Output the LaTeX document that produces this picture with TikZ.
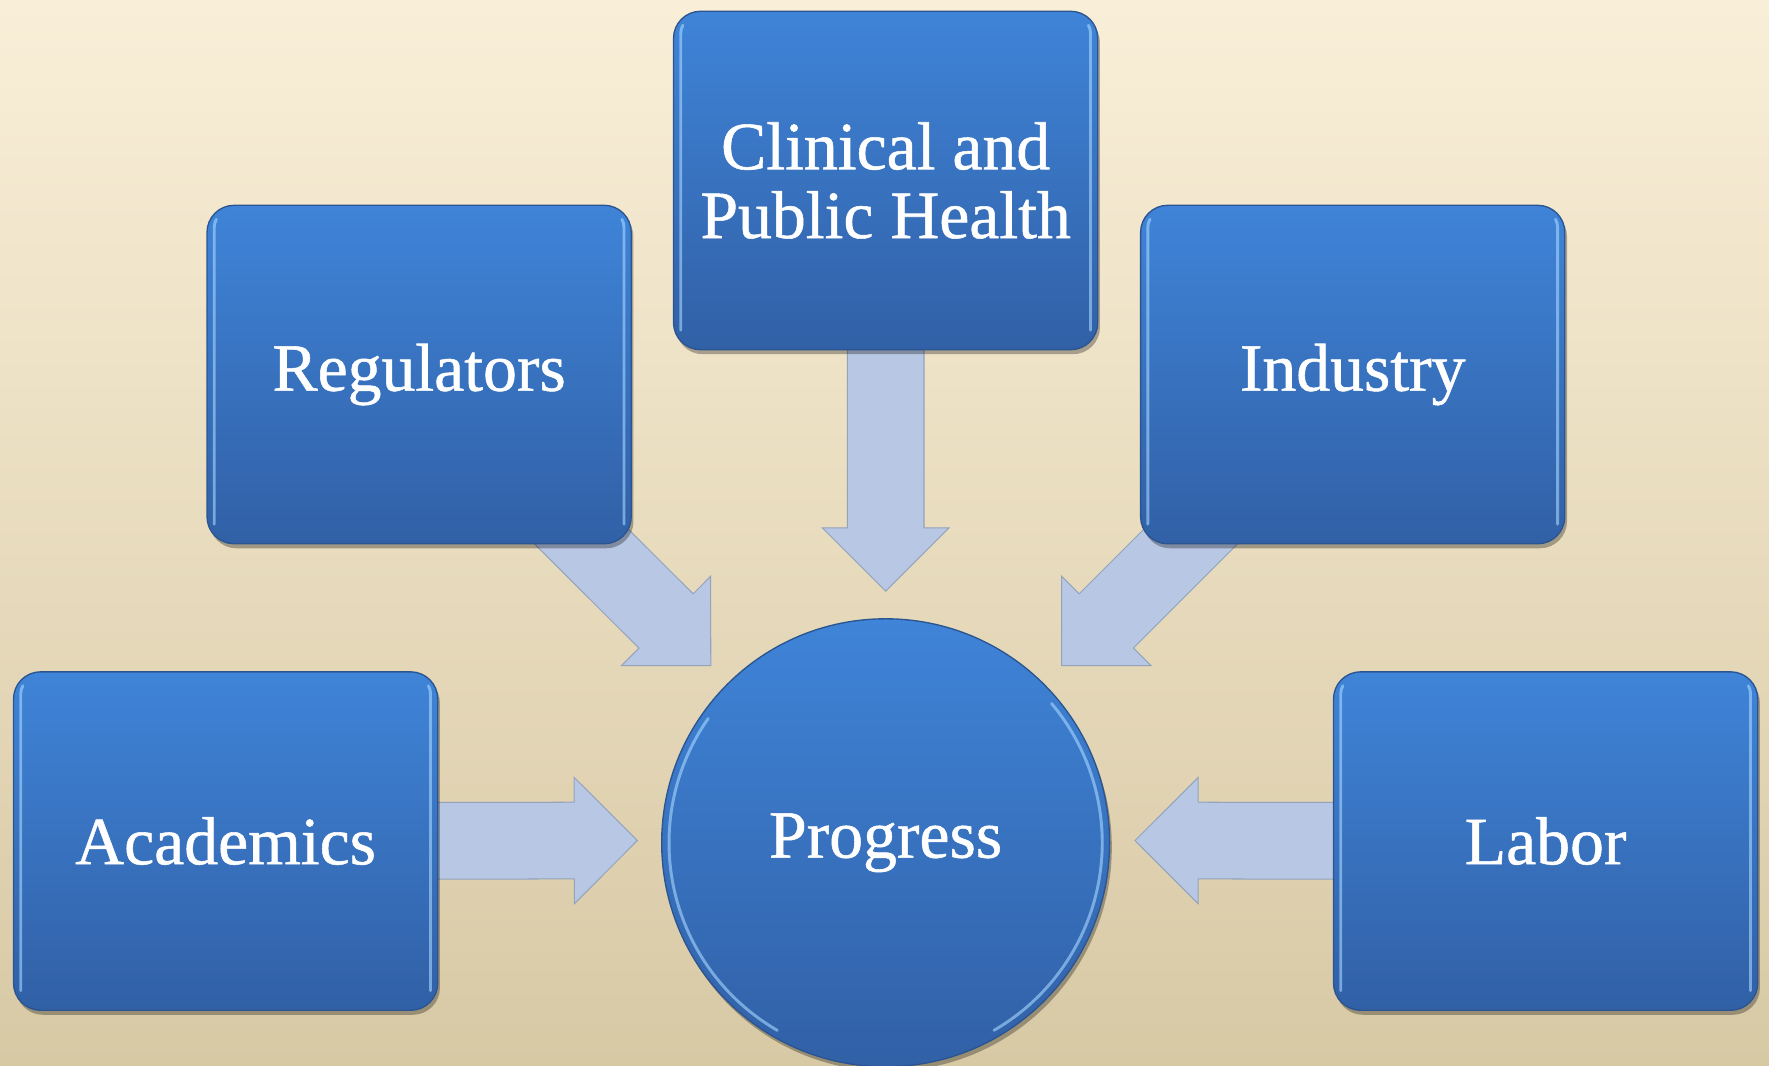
\documentclass[tikz,border=0pt]{standalone}
\usepackage{fontspec}
\newfontfamily\labfont{Liberation Serif}[FakeBold=0.8]
\usetikzlibrary{calc,shadows}
\definecolor{bgtop}{HTML}{F9EFD8}
\definecolor{bgbot}{HTML}{D8C9A5}
\definecolor{boxtop}{HTML}{3F84D8}
\definecolor{boxbot}{HTML}{3160A6}
\definecolor{boxedge}{HTML}{2B5590}
\definecolor{glosscol}{HTML}{A8D8FF}
\definecolor{arrfill}{HTML}{B8C8E4}
\definecolor{arredge}{HTML}{94A3BC}
\pgfdeclarelayer{bg}
\pgfdeclarelayer{arrlayer}
\pgfsetlayers{bg,arrlayer,main}
\newcommand\blockarrow[2]{%
  \draw[blockarr] let \p1=(#1), \p2=(#2),
    \n1={atan2(\y2-\y1,\x2-\x1)}, \n2={veclen(\x2-\x1,\y2-\y1)} in
    [shift={(\p1)}, rotate=\n1]
    (0,-34) -- (\n2-56,-34) -- (\n2-56,-56) -- (\n2,0) -- (\n2-56,56) -- (\n2-56,34) -- (0,34) -- cycle;}
\begin{document}
\begin{tikzpicture}[x=1pt,y=1pt,
  txt/.style={text=white, font=\labfont\fontsize{60}{61}\selectfont, align=center},
  box/.style={txt, draw=boxedge, line width=1.2pt, rounded corners=24pt,
    minimum width=376pt, minimum height=300pt, inner sep=0pt,
    top color=boxtop, bottom color=boxbot,
    drop shadow={shadow xshift=2pt, shadow yshift=-4pt, opacity=0.3, fill=black}},
  hub/.style={txt, circle, draw=boxedge, line width=1.2pt, minimum size=397pt, inner sep=0pt,
    top color=boxtop, bottom color=boxbot,
    drop shadow={shadow xshift=2pt, shadow yshift=-4pt, opacity=0.3, fill=black}},
  glossline/.style={draw=glosscol, line width=2.6pt, opacity=0.6, line cap=round},
  blockarr/.style={fill=arrfill, draw=arredge, line width=0.9pt, line join=miter}]
\useasboundingbox (0,0) rectangle (1568,944);
\begin{pgfonlayer}{bg}
  \shade[top color=bgtop, bottom color=bgbot] (0,0) rectangle (1568,944);
\end{pgfonlayer}
% nodes
\node[box] (clin) at (785,784) {Clinical and\\Public Health};
\node[box] (reg) at (371.5,612) {Regulators};
\node[box] (ind) at (1199,612) {Industry};
\node[box] (acad) at (200,198.5) {Academics};
\node[box] (lab) at (1370,198.5) {Labor};
\node[hub] (prog) at (785,197) {Progress};
% gloss highlights on the sides
\foreach \n in {clin,reg,ind,acad,lab}{
  \draw[glossline] ([shift={(7,18)}]\n.south west) -- ([shift={(7,-20)}]\n.north west)
     arc[start angle=180, end angle=150, radius=14];
  \draw[glossline] ([shift={(-7,18)}]\n.south east) -- ([shift={(-7,-20)}]\n.north east)
     arc[start angle=0, end angle=30, radius=14];
}
\draw[glossline] ([shift={(145:192)}]prog.center) arc[start angle=145, end angle=240, radius=192];
\draw[glossline] ([shift={(-60:192)}]prog.center) arc[start angle=-60, end angle=40, radius=192];
% arrow tips
\coordinate (tipC) at (785,420);
\coordinate (tipR) at (630,354);
\coordinate (tipI) at (941,354);
\coordinate (tipA) at (565,199);
\coordinate (tipL) at (1006,199);
\begin{pgfonlayer}{arrlayer}
  \blockarrow{clin.center}{tipC}
  \blockarrow{reg.center}{tipR}
  \blockarrow{ind.center}{tipI}
  \blockarrow{acad.center}{tipA}
  \blockarrow{lab.center}{tipL}
\end{pgfonlayer}
\end{tikzpicture}
\end{document}
